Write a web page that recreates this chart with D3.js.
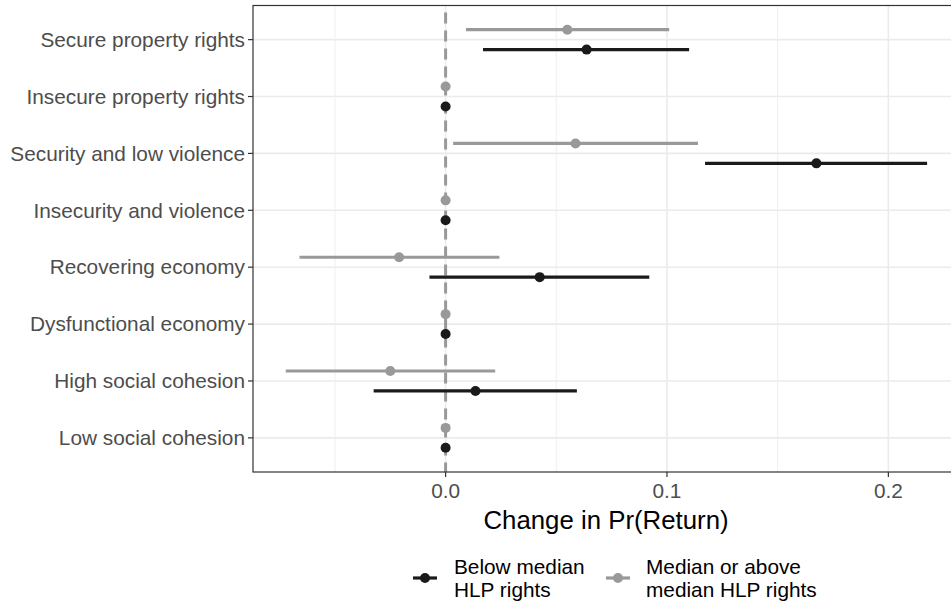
<!DOCTYPE html>
<html>
<head>
<meta charset="utf-8">
<script src="https://cdn.jsdelivr.net/npm/d3@7"></script>
<style>
html,body{margin:0;padding:0;background:#fff;}
svg{display:block;font-family:"Liberation Sans",Arial,Helvetica,sans-serif;}
</style>
</head>
<body>
<svg id="chart" width="951" height="604"></svg>
<script>
const categories = ["Secure property rights","Insecure property rights","Security and low violence","Insecurity and violence","Recovering economy","Dysfunctional economy","High social cohesion","Low social cohesion"];
const belowEst = [0.0637, 0, 0.1675, 0, 0.0425, 0, 0.0135, 0];
const belowLo  = [0.0169, 0, 0.1172, 0, -0.0073, 0, -0.0325, 0];
const belowHi  = [0.110, 0, 0.2175, 0, 0.092, 0, 0.0593, 0];
const aboveEst = [0.055, 0, 0.0587, 0, -0.0210, 0, -0.025, 0];
const aboveLo  = [0.0092, 0, 0.0034, 0, -0.0660, 0, -0.0722, 0];
const aboveHi  = [0.101, 0, 0.114, 0, 0.0243, 0, 0.0224, 0];
const xMajorTicks = [0, 0.1, 0.2];
const xMinorTicks = [-0.05, 0.05, 0.15];
const xTickLabels = ["0.0", "0.1", "0.2"];
const seriesNames = ["Below median\nHLP rights", "Median or above\nmedian HLP rights"];
const seriesColors = ["#1a1a1a", "#999999"];

const svg = d3.select("#chart");
const L = 253, R = 953, T = 5.5, B = 472;
const x = d3.scaleLinear().domain([-0.0870, 0.2292]).range([L, R]);
const y = d3.scaleLinear().domain([0.4, categories.length + 0.6]).range([B, T]);
const pos = i => categories.length - i;
const dodge = 0.175;

const grid = svg.append("g");
grid.selectAll(".minor").data(xMinorTicks).join("line")
  .attr("x1", d => x(d)).attr("x2", d => x(d)).attr("y1", T).attr("y2", B)
  .attr("stroke", "#ebebeb").attr("stroke-width", 0.8);
grid.selectAll(".major").data(xMajorTicks).join("line")
  .attr("x1", d => x(d)).attr("x2", d => x(d)).attr("y1", T).attr("y2", B)
  .attr("stroke", "#ebebeb").attr("stroke-width", 1.6);
grid.selectAll(".hmajor").data(categories).join("line")
  .attr("x1", L).attr("x2", R).attr("y1", (d, i) => y(pos(i))).attr("y2", (d, i) => y(pos(i)))
  .attr("stroke", "#ebebeb").attr("stroke-width", 1.6);

// zero reference line
svg.append("line").attr("x1", x(0)).attr("x2", x(0)).attr("y1", T).attr("y2", B)
  .attr("stroke", "#999999").attr("stroke-width", 3).attr("stroke-dasharray", "11,7")
  .attr("stroke-dashoffset", -7);

const series = [
  {est: aboveEst, lo: aboveLo, hi: aboveHi, off: dodge, color: seriesColors[1]},
  {est: belowEst, lo: belowLo, hi: belowHi, off: -dodge, color: seriesColors[0]}
];
series.forEach(s => {
  const g = svg.append("g");
  const data = categories.map((c, i) => ({i, est: s.est[i], lo: s.lo[i], hi: s.hi[i]}));
  g.selectAll("line").data(data).join("line")
    .attr("x1", d => x(d.lo)).attr("x2", d => x(d.hi))
    .attr("y1", d => y(pos(d.i) + s.off)).attr("y2", d => y(pos(d.i) + s.off))
    .attr("stroke", s.color).attr("stroke-width", 3.2);
  g.selectAll("circle").data(data).join("circle")
    .attr("cx", d => x(d.est)).attr("cy", d => y(pos(d.i) + s.off)).attr("r", 5)
    .attr("fill", s.color);
});

// panel border
svg.append("rect").attr("x", L).attr("y", T).attr("width", R - L).attr("height", B - T)
  .attr("fill", "none").attr("stroke", "#333333").attr("stroke-width", 1.2);

// y axis
const yAxis = svg.append("g");
categories.forEach((c, i) => {
  yAxis.append("line").attr("x1", L - 5).attr("x2", L).attr("y1", y(pos(i))).attr("y2", y(pos(i)))
    .attr("stroke", "#333333").attr("stroke-width", 1.2);
  yAxis.append("text").attr("x", L - 8).attr("y", y(pos(i))).attr("dy", "0.35em")
    .attr("text-anchor", "end").attr("fill", "#4d4d4d").attr("font-size", 20.8).text(c);
});

// x axis
const xAxis = svg.append("g");
xMajorTicks.forEach((t, i) => {
  xAxis.append("line").attr("x1", x(t)).attr("x2", x(t)).attr("y1", B).attr("y2", B + 5)
    .attr("stroke", "#333333").attr("stroke-width", 1.2);
  xAxis.append("text").attr("x", x(t)).attr("y", B + 26)
    .attr("text-anchor", "middle").attr("fill", "#4d4d4d").attr("font-size", 20.8).text(xTickLabels[i]);
});
svg.append("text").attr("x", 606).attr("y", 529).attr("text-anchor", "middle")
  .attr("fill", "#000").attr("font-size", 25.8).text("Change in Pr(Return)");

// legend
const legItems = [
  {name: seriesNames[0], color: seriesColors[0], kx: 413, tx: 454},
  {name: seriesNames[1], color: seriesColors[1], kx: 606, tx: 646}
];
const ly = 578;
legItems.forEach(it => {
  svg.append("line").attr("x1", it.kx).attr("x2", it.kx + 24).attr("y1", ly).attr("y2", ly)
    .attr("stroke", it.color).attr("stroke-width", 3.2);
  svg.append("circle").attr("cx", it.kx + 12).attr("cy", ly).attr("r", 5).attr("fill", it.color);
  const lines = it.name.split("\n");
  lines.forEach((ln, j) => {
    svg.append("text").attr("x", it.tx).attr("y", 574 + j * 23)
      .attr("fill", "#000").attr("font-size", 20.8).text(ln);
  });
});
</script>
</body>
</html>
